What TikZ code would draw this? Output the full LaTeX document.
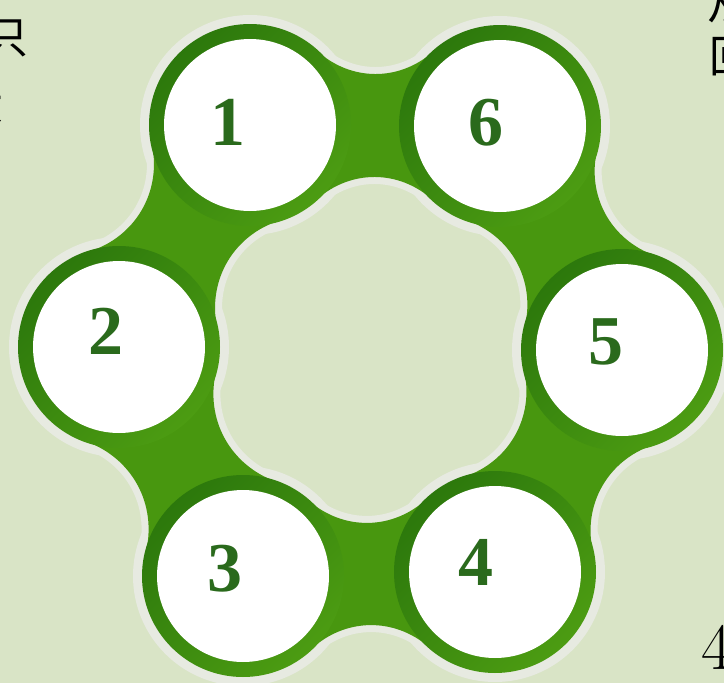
\documentclass[tikz,border=0pt]{standalone}
\usepackage{fontspec}
\newfontfamily\numfont{Liberation Serif}
\newfontfamily\cjkfont{Noto Sans CJK SC}
\usetikzlibrary{calc}

\definecolor{bggreen}{HTML}{D9E4C6}
\definecolor{halo}{HTML}{E7EAE1}
\definecolor{ringgreen}{HTML}{4C9C12}
\definecolor{darkring}{HTML}{2C780C}
\definecolor{bandgreen}{HTML}{48970F}
\definecolor{numgreen}{HTML}{2A6A1C}

\tikzset{
  ball/.style={circle,fill=white,minimum size=172pt,inner sep=0pt},
  num/.style={inner sep=0pt,text=numgreen,font=\numfont\fontsize{70}{70}\selectfont\bfseries},
  edgetext/.style={inner sep=0pt,font=\cjkfont\fontsize{44}{44}\selectfont},
}

\begin{document}
\begin{tikzpicture}[x=1pt,y=-1pt]
\path[use as bounding box,fill=bggreen] (0,0) rectangle (724,683);
% centres of the six balls
\coordinate (p1) at (250,125);
\coordinate (p6) at (500,126);
\coordinate (p5) at (622,350);
\coordinate (p4) at (495,572);
\coordinate (p3) at (243,576);
\coordinate (p2) at (119,347);
% pale rim
\foreach \a/\b in {p1/p6,p6/p5,p5/p4,p4/p3,p3/p2,p2/p1}
  \filldraw[halo,line width=14pt] (\a) -- ($(\a)!100pt!48:(\b)$) to[bend right=42] ($(\b)!100pt!-48:(\a)$) -- (\b) -- ($(\b)!100pt!48:(\a)$) to[bend right=42] ($(\a)!100pt!-48:(\b)$) -- cycle;
\foreach \p in {p1,p2,p3,p4,p5,p6}
  \fill[halo] (\p) circle (110);
% green bands
\foreach \a/\b in {p1/p6,p6/p5,p5/p4,p4/p3,p3/p2,p2/p1}
  \fill[bandgreen] (\a) -- ($(\a)!100pt!48:(\b)$) to[bend right=42] ($(\b)!100pt!-48:(\a)$) -- (\b) -- ($(\b)!100pt!48:(\a)$) to[bend right=42] ($(\a)!100pt!-48:(\b)$) -- cycle;
\foreach \p in {p1,p2,p3,p4,p5,p6}
  \shade[left color=darkring,middle color=ringgreen,right color=ringgreen,shading angle=45] (\p) circle (101);
% white balls and numbers
\node[ball] (c1) at (p1) {};
\node[ball] (c6) at (p6) {};
\node[ball] (c5) at (p5) {};
\node[ball] (c4) at (p4) {};
\node[ball] (c3) at (p3) {};
\node[ball] (c2) at (p2) {};
\node[num] (n1) at (228,122) {1};
\node[num] (n6) at (486,123) {6};
\node[num] (n5) at (606,342) {5};
\node[num] (n4) at (476,562) {4};
\node[num] (n3) at (225,569) {3};
\node[num] (n2) at (106,331) {2};
% text cut off at the edges
\node[edgetext] (t1) at (6,38) {只};
\node[edgetext] (t2) at (-19,104) {大};
\node[edgetext] (t3) at (729,3) {从};
\node[edgetext] (t4) at (731,57) {回};
\node[inner sep=0pt,font=\fontsize{66}{66}\selectfont] (t5) at (717,647) {4};
\end{tikzpicture}
\end{document}
